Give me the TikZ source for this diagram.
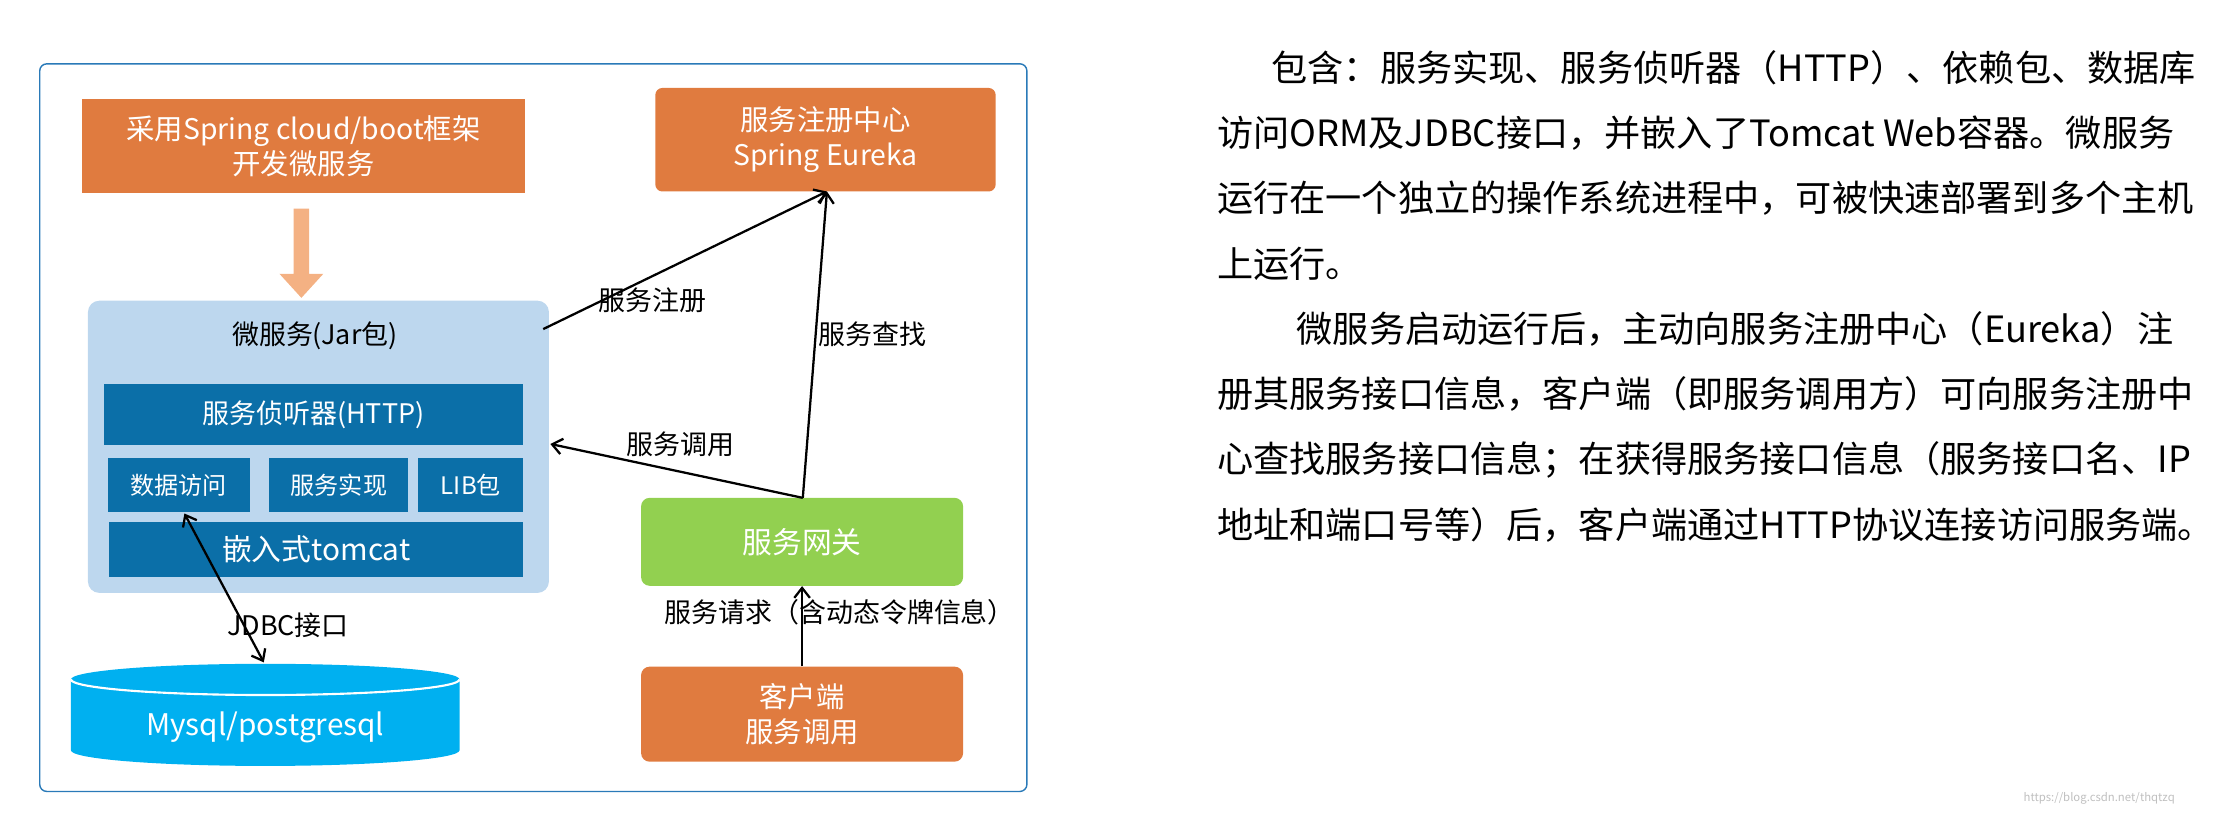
\documentclass[tikz,border=0pt]{standalone}
\usepackage{fontspec}
\setmainfont{Noto Sans CJK SC}
\usetikzlibrary{arrows.meta}
\usetikzlibrary{positioning}
\definecolor{orangebox}{HTML}{E07B3F}
\definecolor{lightorange}{HTML}{F4B183}
\definecolor{panelblue}{HTML}{BDD7EE}
\definecolor{darkblue}{HTML}{0B6FA8}
\definecolor{dbblue}{HTML}{00B0F0}
\definecolor{gwgreen}{HTML}{92D050}
\definecolor{framecol}{HTML}{2A7AB8}
\begin{document}
\begin{tikzpicture}
[x=1pt,y=-1pt,
  orangenode/.style={fill=orangebox,text=white,align=center,font=\fontsize{20}{25}\selectfont,inner sep=0pt},
  barnode/.style={fill=darkblue,text=white,font=\fontsize{19}{22}\selectfont,inner sep=0pt},
  linedecorate/.style={-{Straight Barb[length=7pt,width=11pt]},line width=1.6pt},
  labeltext/.style={font=\fontsize{19}{22}\selectfont},
  paratext/.style={anchor=west,font=\fontsize{25.5}{28}\selectfont,inner sep=0pt}]
\useasboundingbox (0,0) rectangle (1568,574);
%% frame
\draw[framecol,line width=1pt,rounded corners=5pt] (28,45) rectangle (724,558);
%% boxes
\node (spring) at (214,103) [orangenode,minimum width=312,minimum height=66] {采用Spring cloud/boot框架\\开发微服务};
\node (eureka) at (582,98.5) [orangenode,rounded corners=5pt,minimum width=240,minimum height=73] {服务注册中心\\Spring Eureka};
\fill[panelblue,rounded corners=8pt] (62,212) rectangle (387,418);
\node (jar) at (222,237) [font=\fontsize{19}{22}\selectfont] {微服务(Jar包)};
\node (http) at (221,292.5) [barnode,minimum width=296,minimum height=43] {服务侦听器(HTTP)};
\foreach \nodename/\x/\w/\txt in {data/126/100/数据访问, impl/239/98/服务实现, lib/332/74/LIB包}
{
  \node (\nodename) at (\x,342) [barnode,minimum width=\w,minimum height=38,font=\fontsize{17}{20}\selectfont] {\txt};
}
\node (tomcat) at (223,387.5) [barnode,minimum width=292,minimum height=39,font=\fontsize{21}{24}\selectfont] {嵌入式tomcat};
\node (gateway) at (565.5,382) [fill=gwgreen,text=white,rounded corners=6pt,minimum width=227,minimum height=62,font=\fontsize{21}{24}\selectfont] {服务网关};
\node (client) at (565.5,503.5) [orangenode,rounded corners=6pt,minimum width=227,minimum height=67] {客户端\\服务调用};
%% database cylinder
\fill[dbblue] (50,479) -- (50,529) arc[start angle=180,end angle=0,x radius=137,y radius=11] -- (324,479) arc[start angle=0,end angle=-180,x radius=137,y radius=11] -- cycle;
\draw[white,line width=1.5pt] (50,479) arc[start angle=180,end angle=0,x radius=137,y radius=11];
\node (db) at (187,513) [text=white,font=\fontsize{21}{24}\selectfont] {Mysql/postgresql};
\coordinate (dbtop) at (186,467);
%% arrows
\fill[lightorange] (207,147) rectangle (218,193) -- (228,193) -- (212.5,210) -- (197,193) -- (207,193) -- cycle;
\coordinate (regin) at (583,135);
\coordinate (regout) at (383,232);
\coordinate (gwtop) at (566,351);
\coordinate (callin) at (388,313);
\draw[linedecorate] (regout) -- (regin);
\draw[linedecorate] (gwtop) -- (regin);
\draw[linedecorate] (gwtop) -- (callin);
\draw[linedecorate] (client.north) -- (gateway.south);
\draw[linedecorate,{Straight Barb[length=7pt,width=11pt]}-{Straight Barb[length=7pt,width=11pt]}] (130,362) -- (dbtop);
%% labels
\node at (460,212) [labeltext] {服务注册};
\node at (615,236) [labeltext] {服务查找};
\node at (480,313) [labeltext] {服务调用};
\node at (592,432) [labeltext] {服务请求（含动态令牌信息）};
\node at (203,441) [labeltext] {JDBC接口};
%% right text
\foreach \y/\txt in {48/\hspace{1.5em}包含：服务实现、服务侦听器（HTTP）、依赖包、数据库,
  94/访问ORM及JDBC接口，并嵌入了Tomcat Web容器。微服务,
  140/运行在一个独立的操作系统进程中，可被快速部署到多个主机,
  186/上运行。,
  232/\hspace{2.2em}微服务启动运行后，主动向服务注册中心（Eureka）注,
  278/册其服务接口信息，客户端（即服务调用方）可向服务注册中,
  324/心查找服务接口信息；在获得服务接口信息（服务接口名、IP,
  370/地址和端口号等）后，客户端通过HTTP协议连接访问服务端。}
{
  \node at (858,\y) [paratext] {\txt};
}
\node at (1480,563) [text=black!25,font=\fontsize{8}{9}\selectfont] {https://blog.csdn.net/thqtzq};
\end{tikzpicture}
\end{document}
